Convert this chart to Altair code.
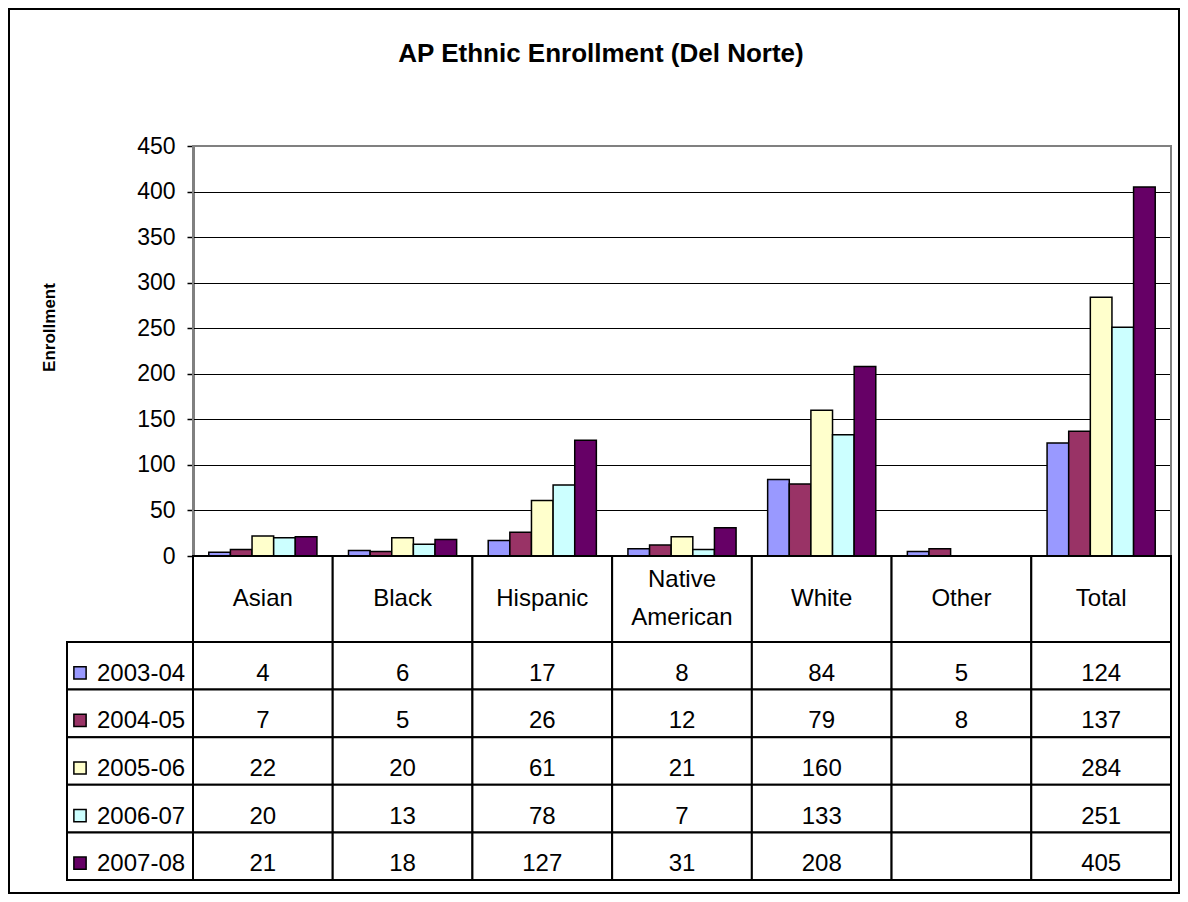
import altair as alt
import pandas as pd

# ---- data ----
categories = ["Asian", "Black", "Hispanic", "Native American", "White", "Other", "Total"]
years = ["2003-04", "2004-05", "2005-06", "2006-07", "2007-08"]
v_2003_04 = [4, 6, 17, 8, 84, 5, 124]
v_2004_05 = [7, 5, 26, 12, 79, 8, 137]
v_2005_06 = [22, 20, 61, 21, 160, None, 284]
v_2006_07 = [20, 13, 78, 7, 133, None, 251]
v_2007_08 = [21, 18, 127, 31, 208, None, 405]
colors = ["#9999FF", "#993366", "#FFFFCC", "#CCFFFF", "#660066"]
y_ticks = [0, 50, 100, 150, 200, 250, 300, 350, 400, 450]
title_text = "AP Ethnic Enrollment (Del Norte)"
y_title = "Enrollment"

series = [v_2003_04, v_2004_05, v_2005_06, v_2006_07, v_2007_08]
rows = []
for yr, vals in zip(years, series):
    for cat, v in zip(categories, vals):
        rows.append({"category": cat, "year": yr, "value": v})
df = pd.DataFrame(rows)
header_df = pd.DataFrame({"category": categories})
year_df = pd.DataFrame({"year": years})

# ---- layout (pixels) ----
FONT = "Liberation Sans"
W, H = 978, 734          # plot area + table area
PLOT_H = 410             # bar plot height
TABLE_TOP = 496          # top of first data row
HEAD_MID = (PLOT_H + TABLE_TOP) / 2
LINE_H = 38

xenc = alt.X("category:N",
             scale=alt.Scale(type="band", domain=categories, paddingInner=0, paddingOuter=0),
             axis=None)
yrow = alt.Y("year:N",
             scale=alt.Scale(type="band", domain=years, range=[TABLE_TOP, H],
                             paddingInner=0, paddingOuter=0),
             axis=None)
color = alt.Color("year:N", scale=alt.Scale(domain=years, range=colors), legend=None)
valid = "isValid(datum.value)"
one = alt.Data(values=[{}])

plot_frame = alt.Chart(one).mark_rect(fillOpacity=0, stroke="#808080", strokeWidth=2).encode(
    x=alt.value(0), x2=alt.value(W), y=alt.value(0), y2=alt.value(PLOT_H))

bars = alt.Chart(df).mark_bar(stroke="black", strokeWidth=1.5).encode(
    x=xenc,
    xOffset=alt.XOffset("year:N", scale=alt.Scale(domain=years, paddingInner=0, paddingOuter=0.73)),
    y=alt.Y("value:Q",
            scale=alt.Scale(domain=[0, 450], range=[PLOT_H, 0], nice=False),
            axis=alt.Axis(values=y_ticks, title=y_title, grid=True, gridColor="black",
                          gridWidth=1, domainColor="black", domainWidth=2,
                          tickColor="black", tickSize=6, tickWidth=1.5,
                          labelFont=FONT, labelFontSize=23, labelColor="black",
                          labelPadding=12, titleFont=FONT, titleFontSize=17,
                          titleFontWeight="bold", titleColor="black", titleAngle=270,
                          titleX=-144, titleY=181, titleAlign="center",
                          titleBaseline="middle")),
    color=color,
).transform_filter(valid)

header_cells = alt.Chart(header_df).mark_rect(fill="white", stroke="black", strokeWidth=2).encode(
    x=xenc, y=alt.value(PLOT_H), y2=alt.value(TABLE_TOP))
# single-line category names
header_text1 = alt.Chart(header_df).mark_text(
    font=FONT, fontSize=24, baseline="middle", color="black"
).encode(x=xenc, y=alt.value(HEAD_MID), text="category:N").transform_filter(
    "indexof(datum.category, ' ') < 0")
# two-line category names (broken at the space)
header_text2 = alt.Chart(header_df).mark_text(
    font=FONT, fontSize=24, lineBreak=" ", lineHeight=LINE_H, baseline="middle", color="black"
).encode(x=xenc, y=alt.value(HEAD_MID - LINE_H / 2), text="category:N").transform_filter(
    "indexof(datum.category, ' ') >= 0")

cells = alt.Chart(df).mark_rect(fill="white", stroke="black", strokeWidth=2).encode(x=xenc, y=yrow)
cell_text = alt.Chart(df).mark_text(
    font=FONT, fontSize=24, baseline="middle", dy=8, color="black"
).encode(x=xenc, y=yrow, text=alt.Text("value:Q", format="d")).transform_filter(valid)

legend_cells = alt.Chart(year_df).mark_rect(fill="white", stroke="black", strokeWidth=2).encode(
    x=alt.value(-126), x2=alt.value(0), y=yrow)
legend_sq = alt.Chart(year_df).mark_point(
    shape="square", filled=True, size=150, opacity=1, yOffset=7
).encode(x=alt.value(-113), y=yrow, fill=color, stroke=alt.value("black"),
         strokeWidth=alt.value(1.5))
legend_text = alt.Chart(year_df).mark_text(
    font=FONT, fontSize=24, align="left", baseline="middle", dy=8, color="black"
).encode(x=alt.value(-96), y=yrow, text="year:N")

outer = alt.Chart(one).mark_rect(fillOpacity=0, stroke="black", strokeWidth=2).encode(
    x=alt.value(-184), x2=alt.value(W + 8), y=alt.value(-137), y2=alt.value(H + 13))

title = alt.Chart(alt.Data(values=[{"t": title_text}])).mark_text(
    font=FONT, fontSize=26, fontWeight="bold", align="center", baseline="alphabetic", color="black"
).encode(x=alt.value(408), y=alt.value(-84), text="t:N")

chart = alt.layer(
    plot_frame, bars, header_cells, header_text1, header_text2, cells, cell_text,
    legend_cells, legend_sq, legend_text, outer, title
).resolve_scale(y="independent").properties(
    width=W, height=H,
    autosize=alt.AutoSizeParams(type="none"),
    padding={"left": 185, "top": 138, "right": 9, "bottom": 14},
).configure_view(strokeWidth=0)

chart.save("out.html", embed_options={"renderer": "svg", "actions": False})
